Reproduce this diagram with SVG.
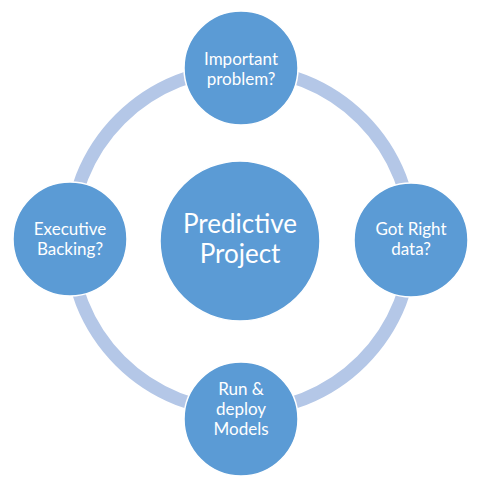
<svg xmlns="http://www.w3.org/2000/svg" width="480" height="480" viewBox="0 0 480 480">
<style>
.node{fill:#5b9bd5;stroke:#ffffff;stroke-width:1.5}
.t{fill:#ffffff;font-family:Lato,"Open Sans","Liberation Sans",sans-serif;text-anchor:middle;font-size:17px}
.big{font-size:26px}
</style>
<rect width="480" height="480" fill="#ffffff"/>
<g id="connectors">
<circle cx="241" cy="240" r="171" fill="none" stroke="#b4c7e7" stroke-width="13"/>
</g>
<g id="center">
<circle class="node" cx="240" cy="241" r="80"/>
<text class="t big" x="240" y="233">Predictive</text>
<text class="t big" x="240" y="263">Project</text>
</g>
<g id="top">
<circle class="node" cx="241" cy="68" r="57"/>
<text class="t" x="241" y="65">Important</text>
<text class="t" x="241" y="85">problem?</text>
</g>
<g id="right">
<circle class="node" cx="411" cy="240" r="57"/>
<text class="t" x="411" y="235">Got Right</text>
<text class="t" x="411" y="255">data?</text>
</g>
<g id="bottom">
<circle class="node" cx="241" cy="419" r="57"/>
<text class="t" x="241" y="395">Run &amp;</text>
<text class="t" x="241" y="415">deploy</text>
<text class="t" x="241" y="435">Models</text>
</g>
<g id="left">
<circle class="node" cx="70" cy="239" r="57"/>
<text class="t" x="70" y="235">Executive</text>
<text class="t" x="70" y="255">Backing?</text>
</g>
</svg>
